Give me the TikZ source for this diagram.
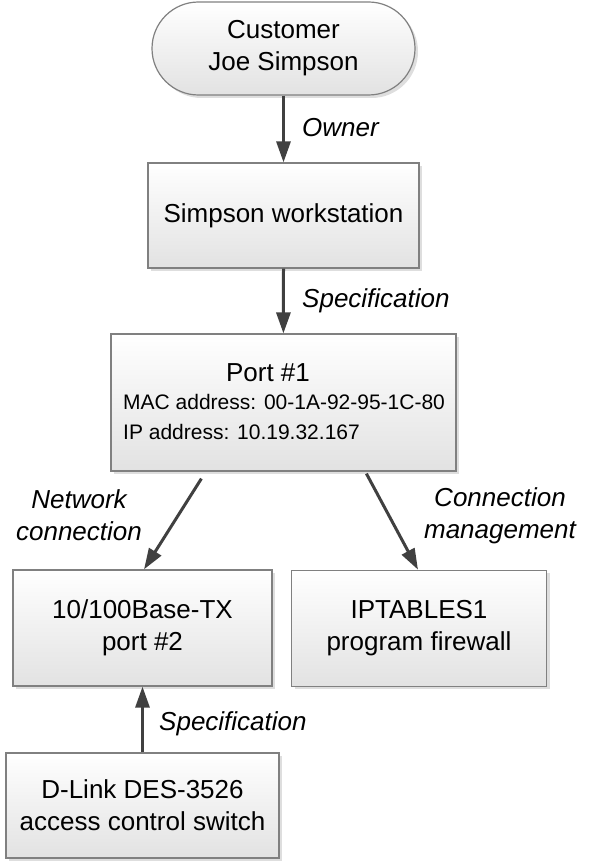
\documentclass[tikz,border=0pt]{standalone}
\usepackage{fontspec}
\setmainfont{Liberation Sans}
\usetikzlibrary{arrows.meta,shadows,calc}
\definecolor{boxline}{RGB}{128,128,128}
\definecolor{arrowc}{RGB}{64,64,64}
\definecolor{boxbottom}{RGB}{226,226,226}
\tikzset{
 box/.style={draw=boxline, line width=1.2pt, top color=white, bottom color=boxbottom,
   drop shadow={shadow xshift=3pt, shadow yshift=-3pt, fill=black!13, opacity=1},
   inner sep=0pt, align=center, font=\fontsize{26}{32}\selectfont},
 conn/.style={draw=arrowc, line width=3pt, -{Triangle[width=14pt,length=21pt]}},
 lbl/.style={font=\fontsize{26}{32}\selectfont\itshape, inner sep=0pt, align=center},
 small/.style={font=\fontsize{21}{25}\selectfont, inner sep=0pt},
}
\begin{document}
\begin{tikzpicture}[x=1pt,y=-1pt]
\useasboundingbox (0,0) rectangle (591,864);
% nodes
\node[box, minimum width=263pt, minimum height=93pt, rounded corners=46.5pt] (cust) at (283.5,48.5) {Customer\\Joe Simpson};
\node[box, minimum width=271pt, minimum height=105pt] (ws) at (283.5,215.5) {Simpson workstation};
\node[box, minimum width=345pt, minimum height=137pt] (port) at (283.4,402.5) {};
\node[box, minimum width=259pt, minimum height=116pt] (tx) at (142.5,628) {10/100Base-TX\\port \#2};
\node[box, minimum width=255pt, minimum height=116pt] (fw) at (419,628.3) {IPTABLES1\\program firewall};
\node[box, minimum width=273pt, minimum height=105pt] (dl) at (142.5,805.5) {D-Link DES-3526\\access control switch};
% port texts
\node[font=\fontsize{26}{31}\selectfont, inner sep=0pt] (ptitle) at (268,373) {Port \#1};
\node[small, anchor=west] (pmac) at (123,402) {MAC address: 00-1A-92-95-1C-80};
\node[small, anchor=west] (pip) at (123,432) {IP address: 10.19.32.167};
% connectors
\draw[conn] (cust.south) -- (ws.north);
\draw[conn] (ws.south) -- (port.north);
\draw[conn] ([xshift=-82pt,yshift=-7pt]port.south) -- ([xshift=1.5pt]tx.north);
\draw[conn] ([xshift=83pt,yshift=-2pt]port.south) -- ([xshift=-1pt]fw.north);
\draw[conn] (dl.north) -- (tx.south);
% labels
\node[lbl, anchor=west] (lowner) at (302,128) {Owner};
\node[lbl, anchor=west] (lspec1) at (302,301) {Specification};
\node[lbl] (lnet) at (79,515.5) {Network\\connection};
\node[lbl] (lconn) at (500,515.5) {Connection\\management};
\node[lbl, anchor=west] (lspec2) at (159,724) {Specification};
\end{tikzpicture}
\end{document}
